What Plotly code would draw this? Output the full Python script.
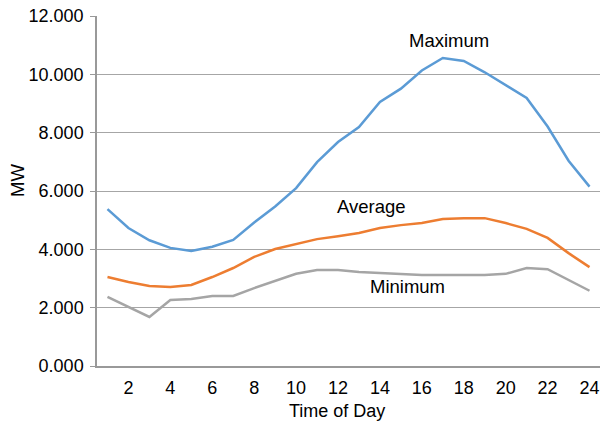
import plotly.graph_objects as go

hours = list(range(1, 25))
maximum = [5380, 4730, 4310, 4050, 3940, 4090, 4320, 4920, 5470, 6100, 6990, 7680, 8190, 9050,
           9510, 10130, 10560, 10460, 10070, 9640, 9190, 8210, 7040, 6150]
average = [3050, 2880, 2740, 2710, 2780, 3050, 3360, 3740, 4010, 4170, 4350, 4450, 4560, 4730,
           4830, 4900, 5040, 5070, 5070, 4900, 4700, 4390, 3870, 3390]
minimum = [2370, 2020, 1680, 2260, 2300, 2400, 2400, 2670, 2910, 3160, 3290, 3290, 3220, 3190,
           3150, 3120, 3120, 3120, 3120, 3160, 3360, 3320, 2950, 2580]
y_ticks = [0, 2000, 4000, 6000, 8000, 10000, 12000]
y_ticktext = ["0.000", "2.000", "4.000", "6.000", "8.000", "10.000", "12.000"]
x_ticks = [2, 4, 6, 8, 10, 12, 14, 16, 18, 20, 22, 24]

FONT = "Liberation Sans, Arial, sans-serif"

fig = go.Figure()
fig.add_trace(go.Scatter(x=hours, y=maximum, mode="lines", name="Maximum",
                         line=dict(color="#5B9BD5", width=2.5)))
fig.add_trace(go.Scatter(x=hours, y=average, mode="lines", name="Average",
                         line=dict(color="#ED7D31", width=2.5)))
fig.add_trace(go.Scatter(x=hours, y=minimum, mode="lines", name="Minimum",
                         line=dict(color="#A5A5A5", width=2.5)))

for txt, xx, yy in [("Maximum", 17.3, 11150), ("Average", 13.6, 5480), ("Minimum", 15.3, 2720)]:
    fig.add_annotation(x=xx, y=yy, text=txt, showarrow=False,
                       font=dict(family=FONT, size=18.5, color="#000000"))

# axis titles
fig.add_annotation(xref="paper", yref="paper", x=0.477, y=-0.128, yanchor="middle",
                   text="Time of Day", showarrow=False,
                   font=dict(family=FONT, size=18, color="#000000"))
fig.add_annotation(xref="paper", yref="paper", x=-0.158, y=0.53, xanchor="center",
                   text="MW", textangle=-90, showarrow=False,
                   font=dict(family=FONT, size=18.5, color="#000000"))

fig.update_layout(
    width=600, height=423,
    margin=dict(l=97, r=0, t=16, b=57),
    paper_bgcolor="white", plot_bgcolor="white",
    showlegend=False,
    font=dict(family=FONT, size=18, color="#000000"),
)
fig.update_xaxes(
    range=[0.5, 24.5], tickvals=x_ticks, showgrid=False,
    showline=True, linecolor="#999999", linewidth=1.5,
    ticks="", ticklabelstandoff=5,
    tickfont=dict(size=18), zeroline=False,
)
fig.update_yaxes(
    range=[0, 12000], tickvals=y_ticks, ticktext=y_ticktext,
    showgrid=True, gridcolor="#a6a6a6", gridwidth=1.2,
    showline=True, linecolor="#999999", linewidth=1.5,
    ticks="outside", ticklen=5, tickcolor="#999999", ticklabelstandoff=3,
    tickfont=dict(size=18), zeroline=False,
)

fig.write_html("out.html", config={"displayModeBar": False},
               post_script="document.body.style.margin='0';")
